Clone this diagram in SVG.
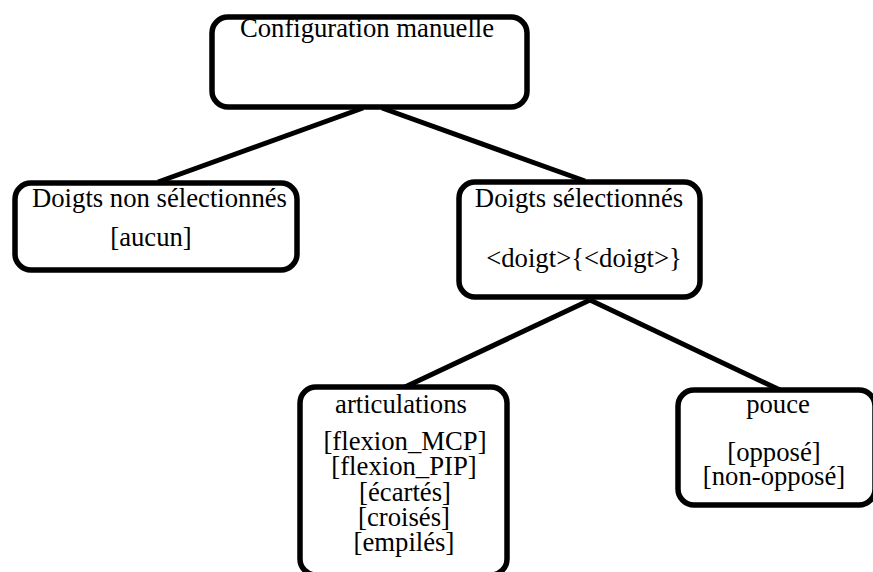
<svg xmlns="http://www.w3.org/2000/svg" width="873" height="572" viewBox="0 0 873 572">
<style>
.box{fill:#fff;stroke:#000;stroke-width:5.5}
.t{font-family:"Liberation Serif","Times New Roman",serif;font-size:26.7px;fill:#000;text-anchor:middle}
.c{stroke:#000;stroke-width:5;fill:none;stroke-linecap:butt}
</style>
<rect width="873" height="572" fill="#fff"/>
<g id="connectors">
<line class="c" x1="363" y1="108" x2="158" y2="182"/>
<line class="c" x1="382" y1="108" x2="585" y2="181"/>
<line class="c" x1="590" y1="300" x2="405" y2="387"/>
<line class="c" x1="590" y1="300" x2="780" y2="390"/>
</g>
<g id="n1">
<rect class="box" x="212" y="17" width="315" height="90" rx="16"/>
<text class="t" x="367" y="37">Configuration manuelle</text>
</g>
<g id="n2">
<rect class="box" x="15" y="183" width="282" height="87" rx="16"/>
<text class="t" x="159.5" y="207">Doigts non sélectionnés</text>
<text class="t" x="151" y="246">[aucun]</text>
</g>
<g id="n3">
<rect class="box" x="459" y="182" width="241" height="115" rx="16"/>
<text class="t" x="579" y="207">Doigts sélectionnés</text>
<text class="t" x="584" y="267">&lt;doigt&gt;{&lt;doigt&gt;}</text>
</g>
<g id="n4">
<rect class="box" x="300" y="387" width="207" height="188" rx="16"/>
<text class="t" x="401" y="413">articulations</text>
<text class="t" x="405" y="449.5">[flexion_MCP]</text>
<text class="t" x="404" y="475">[flexion_PIP]</text>
<text class="t" x="405" y="500.5">[écartés]</text>
<text class="t" x="404" y="526">[croisés]</text>
<text class="t" x="404" y="551">[empilés]</text>
</g>
<g id="n5">
<rect class="box" x="678" y="390" width="197" height="115" rx="16"/>
<text class="t" x="778" y="413">pouce</text>
<text class="t" x="774" y="461">[opposé]</text>
<text class="t" x="774" y="485">[non-opposé]</text>
</g>
</svg>
